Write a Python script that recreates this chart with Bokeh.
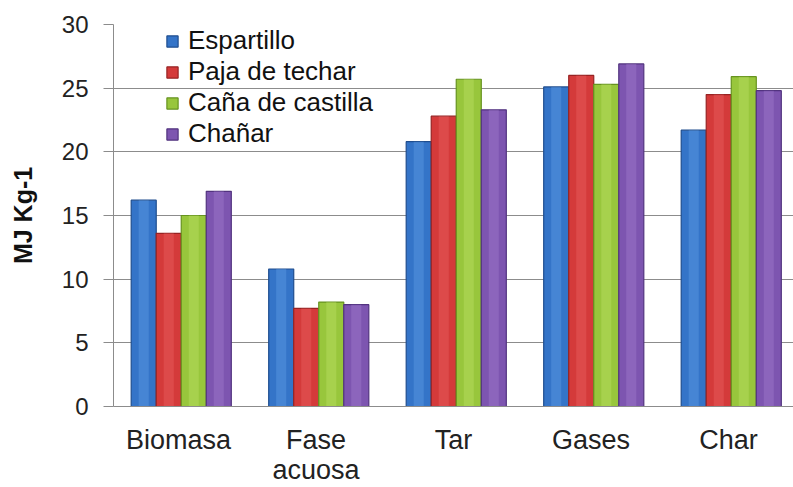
from bokeh.plotting import figure
from bokeh.models import FactorRange, FixedTicker, Legend, LegendItem, ColumnDataSource
from bokeh.transform import dodge
from bokeh.embed import file_html
from bokeh.resources import INLINE

categories = ["Biomasa", "Fase\nacuosa", "Tar", "Gases", "Char"]
series = ["Espartillo", "Paja de techar", "Caña de castilla", "Chañar"]
espartillo = [16.2, 10.8, 20.8, 25.1, 21.7]
paja_de_techar = [13.6, 7.7, 22.8, 26.0, 24.5]
cana_de_castilla = [15.0, 8.2, 25.7, 25.3, 25.9]
chanar = [16.9, 8.0, 23.3, 26.9, 24.8]
y_ticks = [0, 5, 10, 15, 20, 25, 30]
y_label = "MJ Kg-1"

values = [espartillo, paja_de_techar, cana_de_castilla, chanar]
fills = ["#3474c8", "#d43a3a", "#98c63c", "#7d55b0"]
edges = ["#1f4d8e", "#972323", "#66931f", "#52337f"]
lights = ["#6aa6ea", "#ee6a6a", "#c4e46c", "#a883d4"]

FONT = "Liberation Sans"

data = {"cat": categories}
keys = ["s0", "s1", "s2", "s3"]
for k, v in zip(keys, values):
    data[k] = v
src = ColumnDataSource(data)

p = figure(
    width=793, height=487,
    x_range=FactorRange(*categories, range_padding=-0.0273, range_padding_units="absolute"),
    y_range=(0, 30),
    output_backend="svg", toolbar_location=None,
    min_border_left=113, min_border_right=0, min_border_top=24, min_border_bottom=81,
)
p.outline_line_color = None
p.background_fill_color = "white"
p.border_fill_color = "white"

bw = 0.182
offsets = [-1.5 * bw + 0.02, -0.5 * bw + 0.02, 0.5 * bw + 0.02, 1.5 * bw + 0.02]
items = []
for k, name, off, fc, ec, lc in zip(keys, series, offsets, fills, edges, lights):
    r = p.vbar(x=dodge("cat", off, range=p.x_range), top=k, width=bw, bottom=0,
               source=src, fill_color=fc, line_color=ec, line_width=1.2)
    p.vbar(x=dodge("cat", off, range=p.x_range), top=k, width=bw * 0.4, bottom=0,
           source=src, fill_color=lc, fill_alpha=0.35, line_color=None)
    items.append(LegendItem(label=name, renderers=[r]))

# axes
p.yaxis.ticker = FixedTicker(ticks=y_ticks)
p.yaxis.axis_label = y_label
p.yaxis.axis_label_text_font = FONT
p.yaxis.axis_label_text_font_style = "bold"
p.yaxis.axis_label_text_font_size = "25px"
p.yaxis.axis_label_text_color = "#111111"
p.yaxis.axis_label_standoff = 22
p.yaxis.major_label_text_font = FONT
p.yaxis.major_label_text_font_size = "24px"
p.yaxis.major_label_text_color = "#222222"
p.yaxis.major_label_standoff = 15
p.yaxis.major_tick_out = 10
p.yaxis.major_tick_in = 0
p.yaxis.minor_tick_out = 0
p.yaxis.minor_tick_in = 0
p.yaxis.axis_line_color = "#8c8c8c"
p.yaxis.major_tick_line_color = "#8c8c8c"

p.xaxis.major_label_text_font = FONT
p.xaxis.major_label_text_font_size = "27px"
p.xaxis.major_label_text_line_height = 1.0
p.xaxis.major_label_text_color = "#222222"
p.xaxis.major_label_standoff = 18
p.xaxis.major_tick_out = 0
p.xaxis.major_tick_in = 0
p.xaxis.axis_line_color = "#8c8c8c"

p.xgrid.grid_line_color = None
p.ygrid.grid_line_color = "#8c8c8c"
p.ygrid.grid_line_width = 1
p.ygrid.ticker = FixedTicker(ticks=y_ticks)

legend = Legend(items=items, location=(52, 257))
legend.label_text_font = FONT
legend.label_text_font_size = "26px"
legend.label_text_color = "#111111"
legend.glyph_width = 14
legend.glyph_height = 14
legend.label_height = 31
legend.label_standoff = 9
legend.spacing = 0
legend.padding = 0
legend.margin = 0
legend.background_fill_alpha = 0
legend.border_line_alpha = 0
p.add_layout(legend)

open("out.html", "w").write(file_html(p, INLINE))
